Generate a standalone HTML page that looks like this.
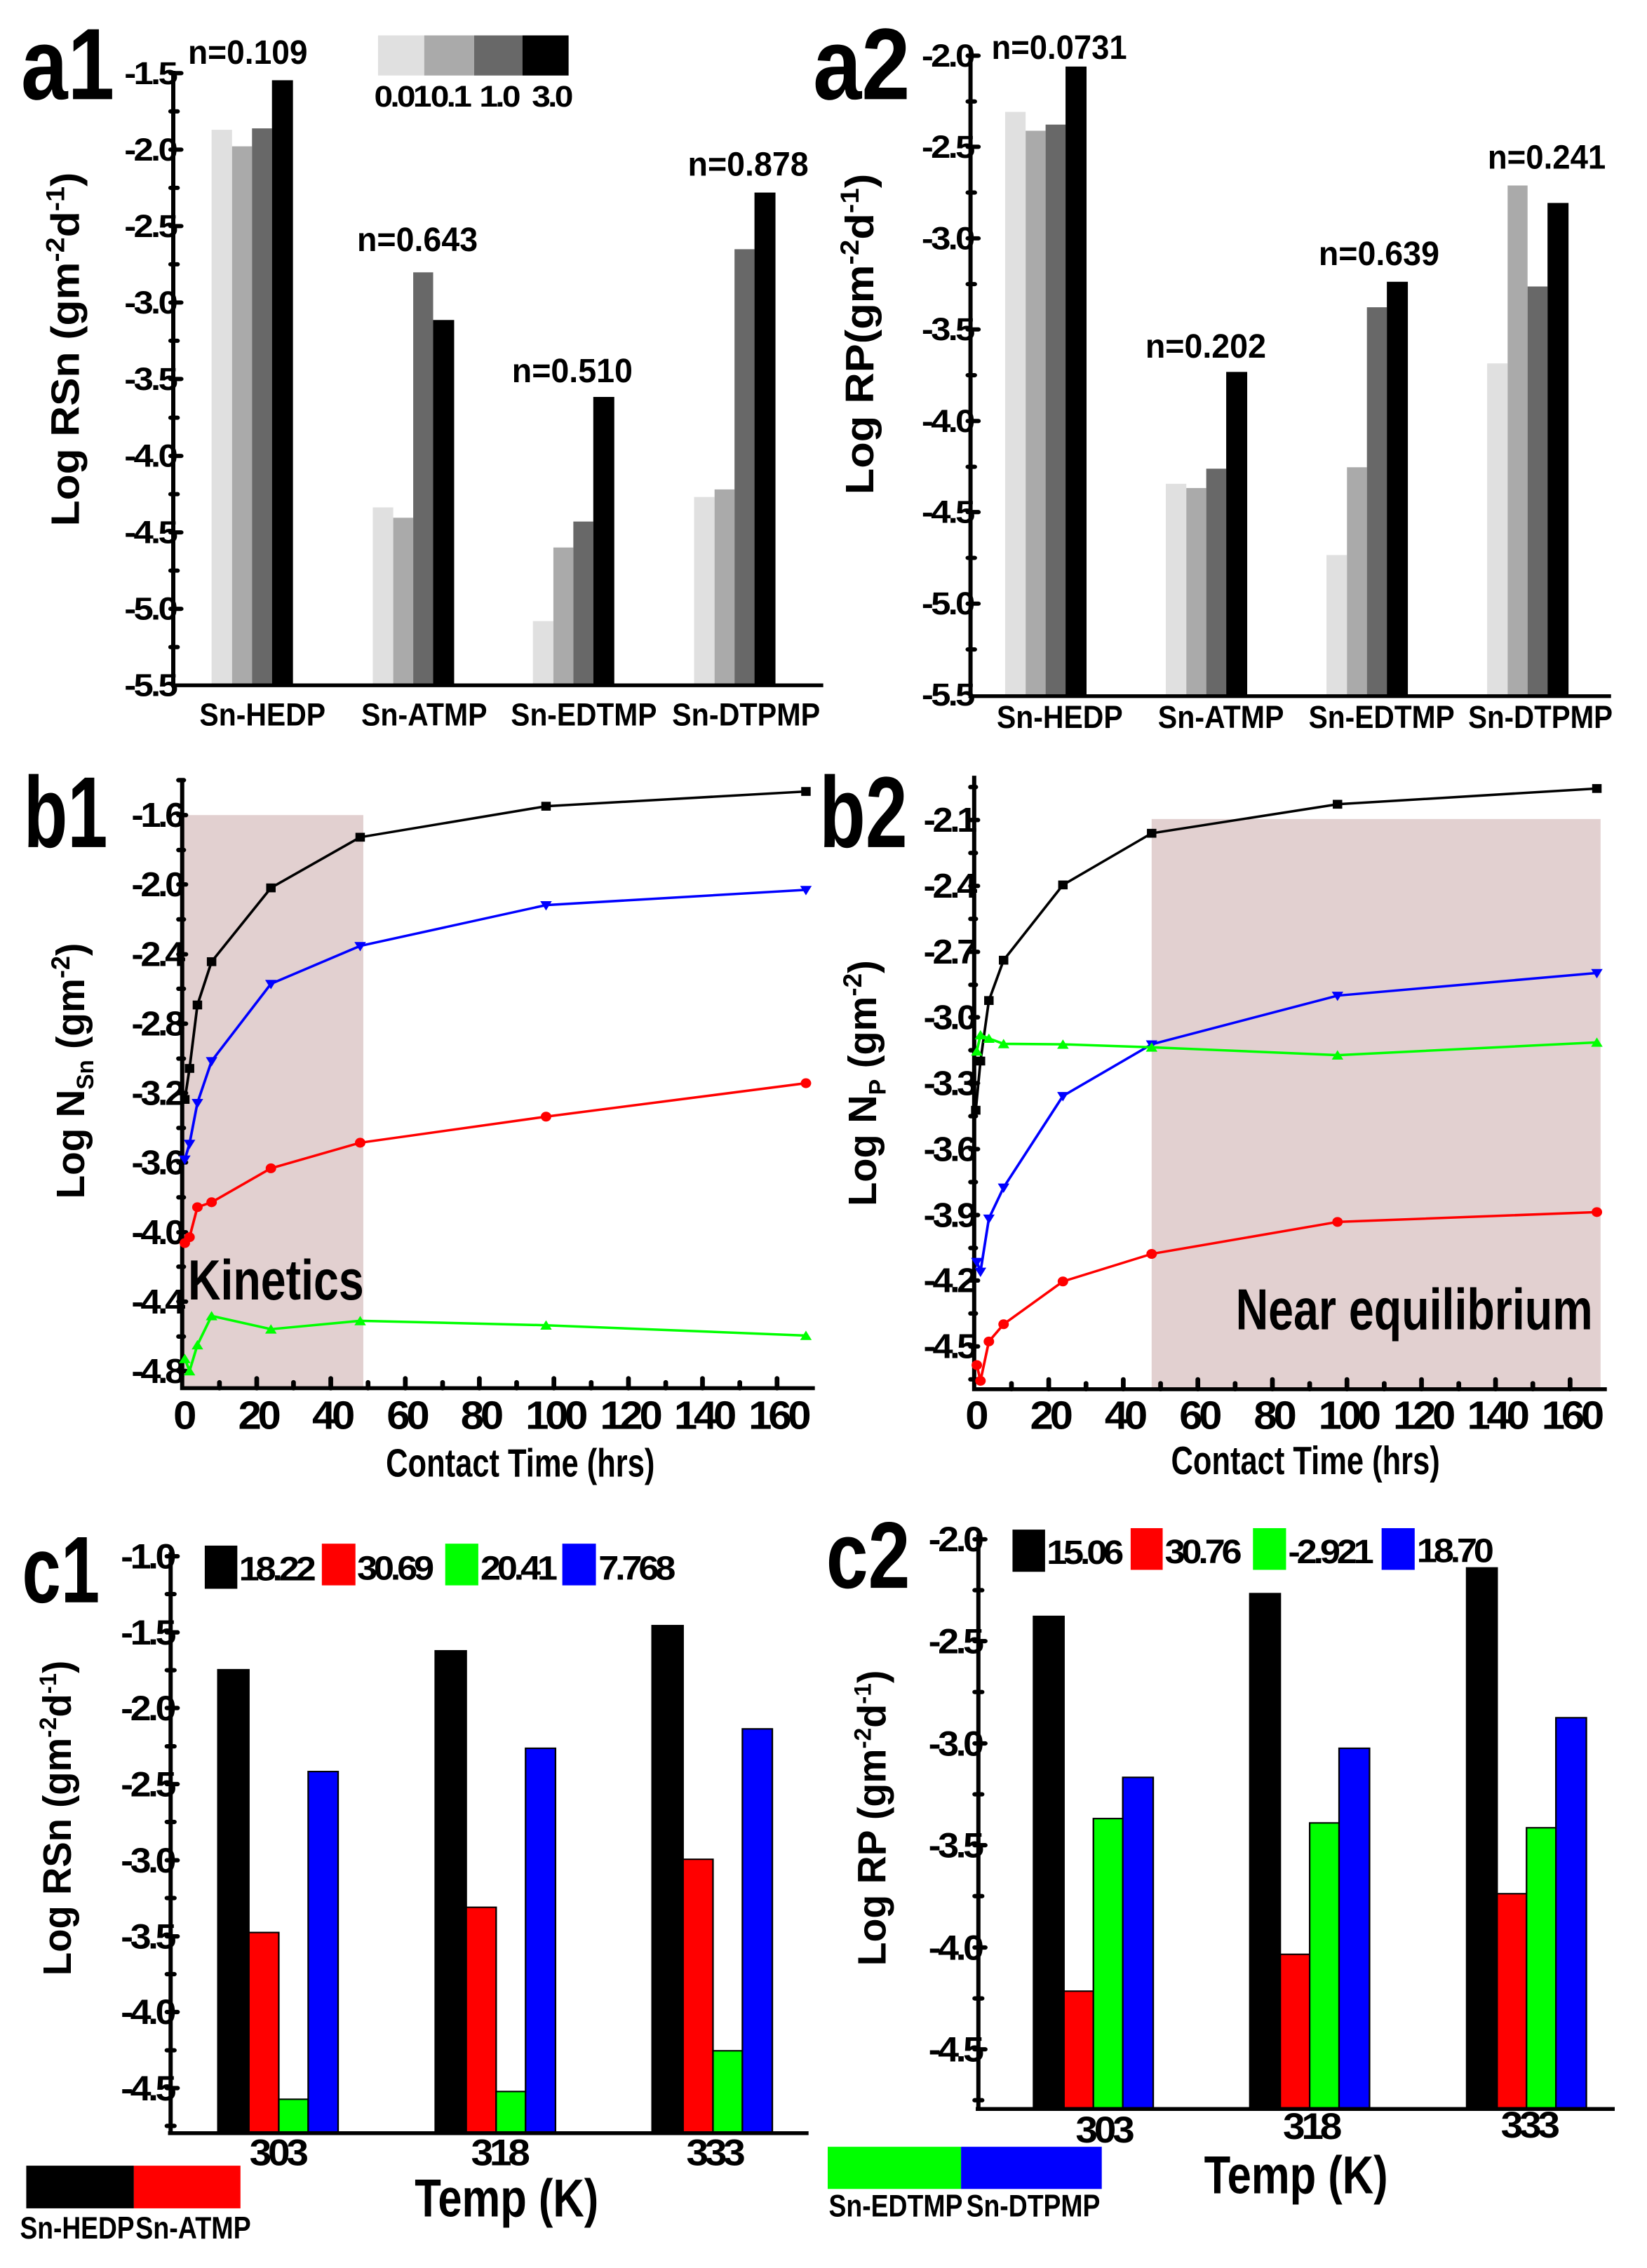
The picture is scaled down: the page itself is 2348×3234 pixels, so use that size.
<!DOCTYPE html>
<html><head><meta charset="utf-8"><style>html,body{margin:0;padding:0;background:#fff}svg{display:block}</style></head><body>
<svg width="2348" height="3234" viewBox="0 0 2348 3234" xmlns="http://www.w3.org/2000/svg" font-family="Liberation Sans, Arial, sans-serif" font-weight="bold">
<defs>
<marker id="ms" markerUnits="userSpaceOnUse" markerWidth="24" markerHeight="24" refX="12" refY="12"><rect x="3" y="3" width="18" height="18" fill="#000"/></marker>
<marker id="mc" markerUnits="userSpaceOnUse" markerWidth="24" markerHeight="24" refX="12" refY="12"><circle cx="12" cy="12" r="10" fill="#f00"/></marker>
<marker id="md" markerUnits="userSpaceOnUse" markerWidth="26" markerHeight="26" refX="13" refY="13"><path d="M2 5H24L13 24Z" fill="#00f"/></marker>
<marker id="mu" markerUnits="userSpaceOnUse" markerWidth="26" markerHeight="26" refX="13" refY="13"><path d="M2 22H24L13 3Z" fill="#0f0"/></marker>
</defs>

<!-- a1 -->
<g transform="scale(0.7485 0.673)">
<text x="40" y="210" font-size="215" textLength="178" lengthAdjust="spacingAndGlyphs">a1</text>
<g fill="#e0e0e0"><rect x="403" y="275" width="39" height="1177"/><rect x="710" y="1075" width="39" height="377"/><rect x="1015" y="1316" width="39" height="136"/><rect x="1322" y="1053" width="39" height="399"/></g>
<g fill="#aaa"><rect x="442" y="310" width="38" height="1142"/><rect x="749" y="1097" width="38" height="355"/><rect x="1054" y="1160" width="38" height="292"/><rect x="1361" y="1037" width="38" height="415"/></g>
<g fill="#686868"><rect x="480" y="272" width="38" height="1180"/><rect x="787" y="577" width="38" height="875"/><rect x="1092" y="1105" width="38" height="347"/><rect x="1399" y="528" width="38" height="924"/></g>
<g fill="#000"><rect x="518" y="170" width="40" height="1282"/><rect x="825" y="678" width="40" height="774"/><rect x="1130" y="841" width="40" height="611"/><rect x="1437" y="408" width="40" height="1044"/></g>
<path d="M330 150V1456M326 1452H1568" stroke="#000" stroke-width="8" fill="none"/>
<path d="M325 155H345M325 317H345M325 479H345M325 641H345M325 803H345M325 966H345M325 1128H345M325 1290H345M325 236H338M325 398H338M325 560H338M325 722H338M325 885H338M325 1047H338M325 1209H338M325 1371H338" stroke="#000" stroke-width="9" stroke-linecap="round"/>
<g font-size="68" text-anchor="end" letter-spacing="-5">
<text x="334" y="178">-1.5</text><text x="334" y="340">-2.0</text><text x="334" y="502">-2.5</text><text x="334" y="664">-3.0</text><text x="334" y="826">-3.5</text><text x="334" y="989">-4.0</text><text x="334" y="1151">-4.5</text><text x="334" y="1313">-5.0</text><text x="334" y="1475">-5.5</text></g>
<g font-size="72"><text x="358" y="135" textLength="228" lengthAdjust="spacingAndGlyphs">n=0.109</text><text x="680" y="532" textLength="230" lengthAdjust="spacingAndGlyphs">n=0.643</text><text x="975" y="810" textLength="230" lengthAdjust="spacingAndGlyphs">n=0.510</text><text x="1310" y="372" textLength="230" lengthAdjust="spacingAndGlyphs">n=0.878</text></g>
<rect x="720" y="75" width="88" height="85" fill="#e0e0e0"/><rect x="808" y="75" width="95" height="85" fill="#aaa"/><rect x="903" y="75" width="92" height="85" fill="#686868"/><rect x="995" y="75" width="88" height="85" fill="#000"/>
<g font-size="64" text-anchor="middle" letter-spacing="-5"><text x="765" y="226">0.01</text><text x="857" y="226">0.1</text><text x="950" y="226">1.0</text><text x="1050" y="226">3.0</text></g>
<g font-size="68"><text x="380" y="1537" textLength="240" lengthAdjust="spacingAndGlyphs">Sn-HEDP</text><text x="688" y="1537" textLength="240" lengthAdjust="spacingAndGlyphs">Sn-ATMP</text><text x="973" y="1537" textLength="278" lengthAdjust="spacingAndGlyphs">Sn-EDTMP</text><text x="1280" y="1537" textLength="282" lengthAdjust="spacingAndGlyphs">Sn-DTPMP</text></g>
<text transform="translate(150 740) rotate(-90)" font-size="76" text-anchor="middle" textLength="750" lengthAdjust="spacingAndGlyphs">Log RSn (gm<tspan dy="-28" font-size="50">-2</tspan><tspan dy="28">d</tspan><tspan dy="-28" font-size="50">-1</tspan><tspan dy="28">)</tspan></text>
</g>

<!-- a2 -->
<g transform="translate(1174 0) scale(0.7485 0.673)">
<text x="-20" y="210" font-size="215" textLength="185" lengthAdjust="spacingAndGlyphs">a2</text>
<g fill="#e0e0e0"><rect x="346" y="237" width="39" height="1238"/><rect x="652" y="1025" width="39" height="450"/><rect x="958" y="1176" width="39" height="299"/><rect x="1264" y="770" width="39" height="705"/></g>
<g fill="#aaa"><rect x="385" y="277" width="38" height="1198"/><rect x="691" y="1034" width="38" height="441"/><rect x="997" y="990" width="38" height="485"/><rect x="1303" y="393" width="38" height="1082"/></g>
<g fill="#686868"><rect x="423" y="264" width="38" height="1211"/><rect x="729" y="993" width="38" height="482"/><rect x="1035" y="651" width="38" height="824"/><rect x="1341" y="607" width="38" height="868"/></g>
<g fill="#000"><rect x="461" y="141" width="40" height="1334"/><rect x="767" y="788" width="40" height="687"/><rect x="1073" y="597" width="40" height="878"/><rect x="1379" y="430" width="40" height="1045"/></g>
<path d="M280 115V1479M276 1475H1500" stroke="#000" stroke-width="8" fill="none"/>
<path d="M275 118H295M275 311H295M275 505H295M275 698H295M275 892H295M275 1085H295M275 1279H295M275 215H288M275 408H288M275 602H288M275 795H288M275 989H288M275 1182H288M275 1376H288" stroke="#000" stroke-width="9" stroke-linecap="round"/>
<g font-size="68" text-anchor="end" letter-spacing="-5">
<text x="284" y="141">-2.0</text><text x="284" y="334">-2.5</text><text x="284" y="528">-3.0</text><text x="284" y="721">-3.5</text><text x="284" y="915">-4.0</text><text x="284" y="1108">-4.5</text><text x="284" y="1302">-5.0</text><text x="284" y="1495">-5.5</text></g>
<g font-size="72"><text x="320" y="125" textLength="258" lengthAdjust="spacingAndGlyphs">n=0.0731</text><text x="613" y="758" textLength="230" lengthAdjust="spacingAndGlyphs">n=0.202</text><text x="943" y="562" textLength="230" lengthAdjust="spacingAndGlyphs">n=0.639</text><text x="1265" y="357" textLength="225" lengthAdjust="spacingAndGlyphs">n=0.241</text></g>
<g font-size="68"><text x="330" y="1542" textLength="240" lengthAdjust="spacingAndGlyphs">Sn-HEDP</text><text x="637" y="1542" textLength="240" lengthAdjust="spacingAndGlyphs">Sn-ATMP</text><text x="924" y="1542" textLength="278" lengthAdjust="spacingAndGlyphs">Sn-EDTMP</text><text x="1228" y="1542" textLength="275" lengthAdjust="spacingAndGlyphs">Sn-DTPMP</text></g>
<text transform="translate(95 708) rotate(-90)" font-size="76" text-anchor="middle" textLength="680" lengthAdjust="spacingAndGlyphs">Log RP(gm<tspan dy="-28" font-size="50">-2</tspan><tspan dy="28">d</tspan><tspan dy="-28" font-size="50">-1</tspan><tspan dy="28">)</tspan></text>
</g>

<!-- b1 -->
<g transform="translate(0 1050) scale(0.7485 0.7015)">
<text x="45" y="225" font-size="205" textLength="160" lengthAdjust="spacingAndGlyphs">b1</text>
<rect x="350" y="160" width="342" height="1165" fill="#e2d0d0"/>
<path d="M347 85V1329M343 1325H1552" stroke="#000" stroke-width="8" fill="none"/>
<path d="M340 160H354M340 301H354M340 443H354M340 584H354M340 725H354M340 866H354M340 1008H354M340 1149H354M340 1290H354M340 89H350M340 231H350M340 372H350M340 513H350M340 655H350M340 796H350M340 937H350M340 1078H350M340 1220H350" stroke="#000" stroke-width="9" stroke-linecap="round"/>
<path d="M489 1325V1305M630 1325V1305M772 1325V1305M913 1325V1305M1055 1325V1305M1197 1325V1305M1338 1325V1305M1480 1325V1305M418 1325V1313M559 1325V1313M701 1325V1313M843 1325V1313M984 1325V1313M1126 1325V1313M1268 1325V1313M1409 1325V1313" stroke="#000" stroke-width="9" stroke-linecap="round"/>
<g font-size="70" text-anchor="end" letter-spacing="-6">
<text x="347" y="184">-1.6</text><text x="347" y="325">-2.0</text><text x="347" y="467">-2.4</text><text x="347" y="608">-2.8</text><text x="347" y="749">-3.2</text><text x="347" y="890">-3.6</text><text x="347" y="1032">-4.0</text><text x="347" y="1173">-4.4</text><text x="347" y="1314">-4.8</text></g>
<g font-size="80" text-anchor="middle" letter-spacing="-7"><text x="349" y="1408">0</text><text x="491" y="1408">20</text><text x="632" y="1408">40</text><text x="774" y="1408">60</text><text x="915" y="1408">80</text><text x="1057" y="1408">100</text><text x="1199" y="1408">120</text><text x="1340" y="1408">140</text><text x="1482" y="1408">160</text></g>
<text x="735" y="1505" font-size="80" textLength="512" lengthAdjust="spacingAndGlyphs">Contact Time (hrs)</text>
<text x="358" y="1145" font-size="115" textLength="335" lengthAdjust="spacingAndGlyphs">Kinetics</text>
<g fill="none" stroke-width="5" stroke-linejoin="round">
<polyline stroke="#000" marker-start="url(#ms)" marker-mid="url(#ms)" marker-end="url(#ms)" points="352,738 361,675 376,546 403,458 516,308 686,205 1040,142 1535,112"/>
<polyline stroke="#00f" marker-start="url(#md)" marker-mid="url(#md)" marker-end="url(#md)" points="352,860 361,828 376,745 403,660 516,503 686,426 1040,343 1535,312"/>
<polyline stroke="#f00" marker-start="url(#mc)" marker-mid="url(#mc)" marker-end="url(#mc)" points="352,1030 361,1018 376,957 403,947 516,878 686,826 1040,773 1535,705"/>
<polyline stroke="#0f0" marker-start="url(#mu)" marker-mid="url(#mu)" marker-end="url(#mu)" points="352,1265 361,1290 376,1237 403,1178 516,1205 686,1188 1040,1197 1535,1218"/>
</g>
<text transform="translate(160 680) rotate(-90)" font-size="76" text-anchor="middle" textLength="520" lengthAdjust="spacingAndGlyphs">Log N<tspan dy="18" font-size="46">Sn</tspan><tspan dy="-18"> (gm</tspan><tspan dy="-28" font-size="50">-2</tspan><tspan dy="28">)</tspan></text>
</g>

<!-- b2 -->
<g transform="translate(1174 1050) scale(0.7485 0.7015)">
<text x="-8" y="225" font-size="205" textLength="168" lengthAdjust="spacingAndGlyphs">b2</text>
<rect x="625" y="168" width="855" height="1159" fill="#e2d0d0"/>
<path d="M287 80V1331M283 1327H1492" stroke="#000" stroke-width="8" fill="none"/>
<path d="M280 170H294M280 304H294M280 438H294M280 571H294M280 705H294M280 839H294M280 973H294M280 1106H294M280 1240H294M280 103H290M280 237H290M280 371H290M280 505H290M280 638H290M280 772H290M280 906H290M280 1040H290M280 1173H290M280 1307H290" stroke="#000" stroke-width="9" stroke-linecap="round"/>
<path d="M429 1327V1307M571 1327V1307M713 1327V1307M855 1327V1307M997 1327V1307M1139 1327V1307M1280 1327V1307M1422 1327V1307M358 1327V1315M500 1327V1315M642 1327V1315M784 1327V1315M926 1327V1315M1068 1327V1315M1210 1327V1315M1351 1327V1315" stroke="#000" stroke-width="9" stroke-linecap="round"/>
<g font-size="70" text-anchor="end" letter-spacing="-6">
<text x="287" y="194">-2.1</text><text x="287" y="328">-2.4</text><text x="287" y="462">-2.7</text><text x="287" y="595">-3.0</text><text x="287" y="729">-3.3</text><text x="287" y="863">-3.6</text><text x="287" y="997">-3.9</text><text x="287" y="1130">-4.2</text><text x="287" y="1264">-4.5</text></g>
<g font-size="80" text-anchor="middle" letter-spacing="-7"><text x="289" y="1408">0</text><text x="431" y="1408">20</text><text x="573" y="1408">40</text><text x="715" y="1408">60</text><text x="857" y="1408">80</text><text x="999" y="1408">100</text><text x="1141" y="1408">120</text><text x="1282" y="1408">140</text><text x="1424" y="1408">160</text></g>
<text x="662" y="1500" font-size="80" textLength="512" lengthAdjust="spacingAndGlyphs">Contact Time (hrs)</text>
<text x="785" y="1205" font-size="118" textLength="680" lengthAdjust="spacingAndGlyphs">Near equilibrium</text>
<g fill="none" stroke-width="5" stroke-linejoin="round">
<polyline stroke="#000" marker-start="url(#ms)" marker-mid="url(#ms)" marker-end="url(#ms)" points="290,760 299,660 315,537 343,455 456,302 625,197 979,138 1473,106"/>
<polyline stroke="#00f" marker-start="url(#md)" marker-mid="url(#md)" marker-end="url(#md)" points="292,1068 299,1088 315,980 343,917 456,731 625,626 979,527 1473,481"/>
<polyline stroke="#0f0" marker-start="url(#mu)" marker-mid="url(#mu)" marker-end="url(#mu)" points="292,640 299,607 315,614 343,625 456,626 625,632 979,648 1473,622"/>
<polyline stroke="#f00" marker-start="url(#mc)" marker-mid="url(#mc)" marker-end="url(#mc)" points="292,1278 299,1310 315,1230 343,1195 456,1108 625,1052 979,987 1473,967"/>
</g>
<text transform="translate(100 705) rotate(-90)" font-size="76" text-anchor="middle" textLength="500" lengthAdjust="spacingAndGlyphs">Log N<tspan dy="18" font-size="46">P</tspan><tspan dy="-18"> (gm</tspan><tspan dy="-28" font-size="50">-2</tspan><tspan dy="28">)</tspan></text>
</g>

<!-- c1 -->
<g transform="translate(0 2150) scale(0.7485 0.6913)">
<text x="42" y="195" font-size="195" textLength="148" lengthAdjust="spacingAndGlyphs">c1</text>
<g stroke="#000" stroke-width="3">
<rect x="415" y="334" width="59" height="956" fill="#000"/><rect x="474" y="876" width="57" height="414" fill="#f00"/><rect x="531" y="1220" width="56" height="70" fill="#0f0"/><rect x="587" y="544" width="57" height="746" fill="#00f"/>
<rect x="829" y="295" width="59" height="995" fill="#000"/><rect x="888" y="824" width="57" height="466" fill="#f00"/><rect x="945" y="1204" width="56" height="86" fill="#0f0"/><rect x="1001" y="496" width="57" height="794" fill="#00f"/>
<rect x="1242" y="243" width="59" height="1047" fill="#000"/><rect x="1301" y="725" width="57" height="565" fill="#f00"/><rect x="1358" y="1120" width="56" height="170" fill="#0f0"/><rect x="1414" y="456" width="57" height="834" fill="#00f"/>
</g>
<path d="M325 92V1294M320 1290H1540" stroke="#000" stroke-width="8" fill="none"/>
<path d="M318 100H338M318 257H338M318 413H338M318 570H338M318 727H338M318 884H338M318 1040H338M318 1197H338M318 178H332M318 335H332M318 492H332M318 648H332M318 805H332M318 962H332M318 1119H332M318 1275H332" stroke="#000" stroke-width="9" stroke-linecap="round"/>
<g font-size="72" text-anchor="end" letter-spacing="-6">
<text x="330" y="125">-1.0</text><text x="330" y="282">-1.5</text><text x="330" y="438">-2.0</text><text x="330" y="595">-2.5</text><text x="330" y="752">-3.0</text><text x="330" y="909">-3.5</text><text x="330" y="1065">-4.0</text><text x="330" y="1222">-4.5</text></g>
<rect x="390" y="78" width="62" height="89" fill="#000"/><rect x="613" y="74" width="64" height="86" fill="#f00"/><rect x="848" y="74" width="63" height="86" fill="#0f0"/><rect x="1071" y="74" width="64" height="86" fill="#00f"/>
<g font-size="70" letter-spacing="-7"><text x="455" y="150">18.22</text><text x="680" y="148">30.69</text><text x="915" y="148">20.41</text><text x="1140" y="148">7.768</text></g>
<g font-size="76" text-anchor="middle" letter-spacing="-7"><text x="528" y="1356">303</text><text x="950" y="1356">318</text><text x="1360" y="1356">333</text></g>
<text x="790" y="1462" font-size="110" textLength="350" lengthAdjust="spacingAndGlyphs">Temp (K)</text>
<rect x="50" y="1357" width="205" height="88" fill="#000"/><rect x="255" y="1357" width="203" height="88" fill="#f00"/>
<g font-size="64"><text x="38" y="1507" textLength="218" lengthAdjust="spacingAndGlyphs">Sn-HEDP</text><text x="258" y="1507" textLength="220" lengthAdjust="spacingAndGlyphs">Sn-ATMP</text></g>
<text transform="translate(135 640) rotate(-90)" font-size="76" text-anchor="middle" textLength="650" lengthAdjust="spacingAndGlyphs">Log RSn (gm<tspan dy="-28" font-size="46">-2</tspan><tspan dy="28">d</tspan><tspan dy="-28" font-size="46">-1</tspan><tspan dy="28">)</tspan></text>
</g>

<!-- c2 -->
<g transform="translate(1174 2150) scale(0.7485 0.6913)">
<text x="5" y="165" font-size="195" textLength="160" lengthAdjust="spacingAndGlyphs">c2</text>
<g stroke="#000" stroke-width="3">
<rect x="400" y="224" width="58" height="1016" fill="#000"/><rect x="458" y="997" width="56" height="243" fill="#f00"/><rect x="514" y="641" width="56" height="599" fill="#0f0"/><rect x="570" y="556" width="58" height="684" fill="#00f"/>
<rect x="812" y="177" width="58" height="1063" fill="#000"/><rect x="870" y="921" width="56" height="319" fill="#f00"/><rect x="926" y="650" width="56" height="590" fill="#0f0"/><rect x="982" y="496" width="58" height="744" fill="#00f"/>
<rect x="1225" y="124" width="58" height="1116" fill="#000"/><rect x="1283" y="796" width="56" height="444" fill="#f00"/><rect x="1339" y="660" width="56" height="580" fill="#0f0"/><rect x="1395" y="433" width="58" height="807" fill="#00f"/>
</g>
<path d="M295 55V1244M290 1240H1507" stroke="#000" stroke-width="8" fill="none"/>
<path d="M288 65H308M288 275H308M288 486H308M288 696H308M288 907H308M288 1117H308M288 170H302M288 380H302M288 591H302M288 801H302M288 1012H302M288 1222H302" stroke="#000" stroke-width="9" stroke-linecap="round"/>
<g font-size="72" text-anchor="end" letter-spacing="-6">
<text x="300" y="90">-2.0</text><text x="300" y="300">-2.5</text><text x="300" y="511">-3.0</text><text x="300" y="721">-3.5</text><text x="300" y="932">-4.0</text><text x="300" y="1142">-4.5</text></g>
<rect x="360" y="45" width="62" height="87" fill="#000"/><rect x="585" y="42" width="61" height="86" fill="#f00"/><rect x="818" y="42" width="63" height="86" fill="#0f0"/><rect x="1063" y="42" width="63" height="86" fill="#00f"/>
<g font-size="70" letter-spacing="-7"><text x="425" y="116">15.06</text><text x="650" y="114">30.76</text><text x="885" y="114">-2.921</text><text x="1130" y="112">18.70</text></g>
<g font-size="76" text-anchor="middle" letter-spacing="-7"><text x="533" y="1309">303</text><text x="928" y="1302">318</text><text x="1343" y="1299">333</text></g>
<text x="725" y="1414" font-size="110" textLength="350" lengthAdjust="spacingAndGlyphs">Temp (K)</text>
<rect x="8" y="1318" width="254" height="87" fill="#0f0"/><rect x="262" y="1318" width="268" height="87" fill="#00f"/>
<g font-size="64"><text x="10" y="1462" textLength="255" lengthAdjust="spacingAndGlyphs">Sn-EDTMP</text><text x="272" y="1462" textLength="255" lengthAdjust="spacingAndGlyphs">Sn-DTPMP</text></g>
<text transform="translate(118 640) rotate(-90)" font-size="76" text-anchor="middle" textLength="610" lengthAdjust="spacingAndGlyphs">Log RP (gm<tspan dy="-28" font-size="46">-2</tspan><tspan dy="28">d</tspan><tspan dy="-28" font-size="46">-1</tspan><tspan dy="28">)</tspan></text>
</g>
</svg>
</body></html>
